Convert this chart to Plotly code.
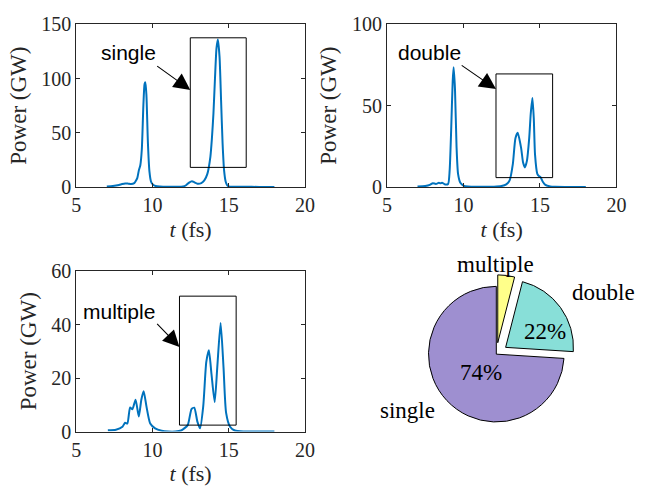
import plotly.graph_objects as go

# ---- pulse power traces (t in fs, power in GW) ----
t_single = [7.0, 7.4, 7.8, 8.0, 8.2, 8.4, 8.6, 8.8, 8.9, 9.0, 9.1, 9.2, 9.3, 9.4, 9.48, 9.53,
            9.6, 9.7, 9.8, 9.9, 10.0, 10.2, 10.5, 11.0, 11.6, 12.0, 12.2, 12.4, 12.59, 12.75,
            12.95, 13.2, 13.4, 13.6, 13.8, 13.9, 14.0, 14.1, 14.2, 14.29, 14.4, 14.5, 14.6,
            14.7, 14.8, 14.9, 15.0, 15.3, 16.0, 17.0, 18.0]
p_single = [0.3, 0.8, 1.8, 2.6, 3.2, 3.0, 2.6, 3.5, 5.5, 8.0, 15.0, 20.0, 35.0, 75.0, 95.0, 96.5,
            85.0, 40.0, 14.0, 5.0, 2.5, 0.8, 0.3, 0.1, 0.1, 0.3, 1.5, 4.0, 5.3, 4.2,
            3.0, 3.5, 6.0, 12.0, 28.0, 45.0, 68.0, 100.0, 128.0, 136.0, 120.0, 80.0, 40.0,
            15.0, 5.0, 1.5, 0.5, 0.2, 0.05, 0.0, 0.0]

t_double = [7.0, 7.5, 7.8, 8.0, 8.2, 8.4, 8.5, 8.6, 8.8, 9.0, 9.1, 9.2, 9.3, 9.36, 9.45, 9.55,
            9.65, 9.8, 10.0, 10.3, 11.0, 12.0, 12.49, 12.8, 13.02, 13.23, 13.4, 13.55, 13.77,
            13.9, 14.02, 14.15, 14.3, 14.4, 14.51, 14.6, 14.68, 14.83, 14.95, 15.04, 15.2,
            15.36, 15.68, 16.0, 17.0, 18.0]
p_double = [0.2, 0.5, 1.2, 2.3, 1.8, 2.5, 2.2, 2.6, 1.5, 1.8, 10.0, 35.0, 65.0, 73.6, 60.0, 25.0,
            8.0, 2.5, 0.8, 0.2, 0.05, 0.1, 0.5, 1.5, 4.0, 14.0, 30.0, 33.3, 24.0,
            15.0, 12.0, 16.0, 30.0, 45.0, 54.7, 42.0, 20.0, 8.0, 6.5, 6.0, 3.0,
            1.2, 0.3, 0.1, 0.0, 0.0]

t_multiple = [7.07, 7.6, 8.03, 8.2, 8.35, 8.53, 8.68, 8.89, 9.1, 9.27, 9.42, 9.6, 9.85, 10.17,
              10.6, 11.03, 11.5, 11.88, 12.31, 12.56, 12.74, 12.95, 13.12, 13.33, 13.53, 13.7,
              13.87, 14.08, 14.25, 14.47, 14.66, 14.83, 15.09, 15.4, 16.0, 17.0, 18.0]
p_multiple = [0.5, 0.7, 1.8, 3.3, 3.0, 9.0, 8.3, 11.9, 5.6, 12.0, 15.1, 9.5, 3.0, 1.2,
              0.3, 0.0, 0.0, 0.4, 2.4, 8.4, 8.9, 3.6, 1.2, 9.5, 26.0, 30.4,
              21.5, 11.0, 24.0, 40.6, 24.0, 7.0, 1.8, 0.4, 0.05, 0.0, 0.0]

# ---- share of each pulse type (listed clockwise from 12 o'clock) ----
pie_labels = ["multiple", "double", "single"]
pie_values = [4, 22, 74]
pie_colors = ["#FFFF8A", "#88DFD8", "#9E8FD0"]
pie_pull = [0.17, 0.17, 0]

LINE = "#0072BD"
AX = "#262626"
SERIF = "Liberation Serif"
SANS = "Liberation Sans"

fig = go.Figure()

panels = [
    # (x axis, y axis, t, p, y range, y ticks, domain x, domain y, label, label pos, arrow tail, arrow head, box)
    ("x", "y", t_single, p_single, [0, 150], [0, 50, 100, 150],
     [0.1132, 0.4760], [0.6305, 0.9719], "single", (8.4, 124), (10.21, 112.5), (12.48, 89.5),
     (12.48, 18.0, 16.15, 137.6)),
    ("x2", "y2", t_double, p_double, [0, 100], [0, 50, 100],
     [0.6062, 0.9705], [0.6305, 0.9719], "double", (7.8, 83), (9.79, 75.4), (12.13, 60.2),
     (12.13, 5.7, 15.83, 69.5)),
    ("x3", "y3", t_multiple, p_multiple, [0, 60], [0, 20, 40, 60],
     [0.1132, 0.4760], [0.1165, 0.4538], "multiple", (7.8, 44.7), (10.21, 40.8), (11.77, 31.6),
     (11.77, 2.4, 15.49, 50.6)),
]

axis_common = dict(
    showline=True, linecolor=AX, linewidth=1, mirror="ticks",
    ticks="inside", ticklen=4, tickcolor=AX, tickwidth=1,
    showgrid=False, zeroline=False,
    tickfont=dict(family=SERIF, size=20, color=AX),
)

for xa, ya, t, p, yr, yt, dx, dy, lab, lpos, tail, head, box in panels:
    fig.add_trace(go.Scatter(
        x=t, y=p, mode="lines", xaxis=xa, yaxis=ya,
        line=dict(color=LINE, width=2, shape="spline", smoothing=0.6),
        showlegend=False, hoverinfo="skip", cliponaxis=True,
    ))
    # highlight box around the trailing pulse group
    fig.add_shape(type="rect", xref=xa, yref=ya,
                  x0=box[0], y0=box[1], x1=box[2], y1=box[3],
                  line=dict(color="black", width=1))
    # text label and arrow pointing at the box
    fig.add_annotation(x=lpos[0], y=lpos[1], xref=xa, yref=ya, text=lab,
                       showarrow=False, xanchor="center", yanchor="middle",
                       font=dict(family=SANS, size=21, color="black"))
    fig.add_annotation(x=head[0], y=head[1], ax=tail[0], ay=tail[1],
                       xref=xa, yref=ya, axref=xa, ayref=ya, text="",
                       showarrow=True, arrowhead=2, arrowsize=3, arrowwidth=1.1,
                       arrowcolor="black")
    xkey = "xaxis" + xa[1:]
    ykey = "yaxis" + ya[1:]
    fig.layout[xkey] = dict(
        axis_common, domain=dx, anchor=ya, range=[5, 20],
        tickvals=[5, 10, 15, 20],
        title=dict(text="<i>t</i> (fs)", font=dict(family=SERIF, size=22, color=AX), standoff=6),
    )
    fig.layout[ykey] = dict(
        axis_common, domain=dy, anchor=xa, range=yr, tickvals=yt,
        title=dict(text="Power (GW)", font=dict(family=SERIF, size=23, color=AX), standoff=8),
    )

# ---- pie of pulse types ----
fig.add_trace(go.Pie(
    labels=pie_labels, values=pie_values, sort=False,
    direction="clockwise", rotation=0,
    pull=pie_pull,
    marker=dict(colors=pie_colors, line=dict(color="black", width=1)),
    textinfo="none", hoverinfo="skip", showlegend=False,
    domain=dict(x=[0.6512, 0.9085], y=[0.1124, 0.4458]),
))

pie_text_pos = {"single": (0.639, 0.161), "double": (0.950, 0.408), "multiple": (0.778, 0.468)}
pct_pos = {"single": (0.755, 0.241), "double": (0.857, 0.327)}
for lab, val in zip(pie_labels, pie_values):
    px, py = pie_text_pos[lab]
    fig.add_annotation(x=px, y=py, xref="paper", yref="paper", text=lab, showarrow=False,
                       xanchor="center", yanchor="middle",
                       font=dict(family=SERIF, size=23, color="black"))
    if lab in pct_pos:
        qx, qy = pct_pos[lab]
        fig.add_annotation(x=qx, y=qy, xref="paper", yref="paper", text=f"{val}%",
                           showarrow=False, xanchor="center", yanchor="middle",
                           font=dict(family=SERIF, size=23, color="black"))

fig.update_layout(
    width=645, height=498, autosize=False,
    margin=dict(l=0, r=0, t=0, b=0),
    paper_bgcolor="white", plot_bgcolor="white",
)

fig.write_html("out.html")
